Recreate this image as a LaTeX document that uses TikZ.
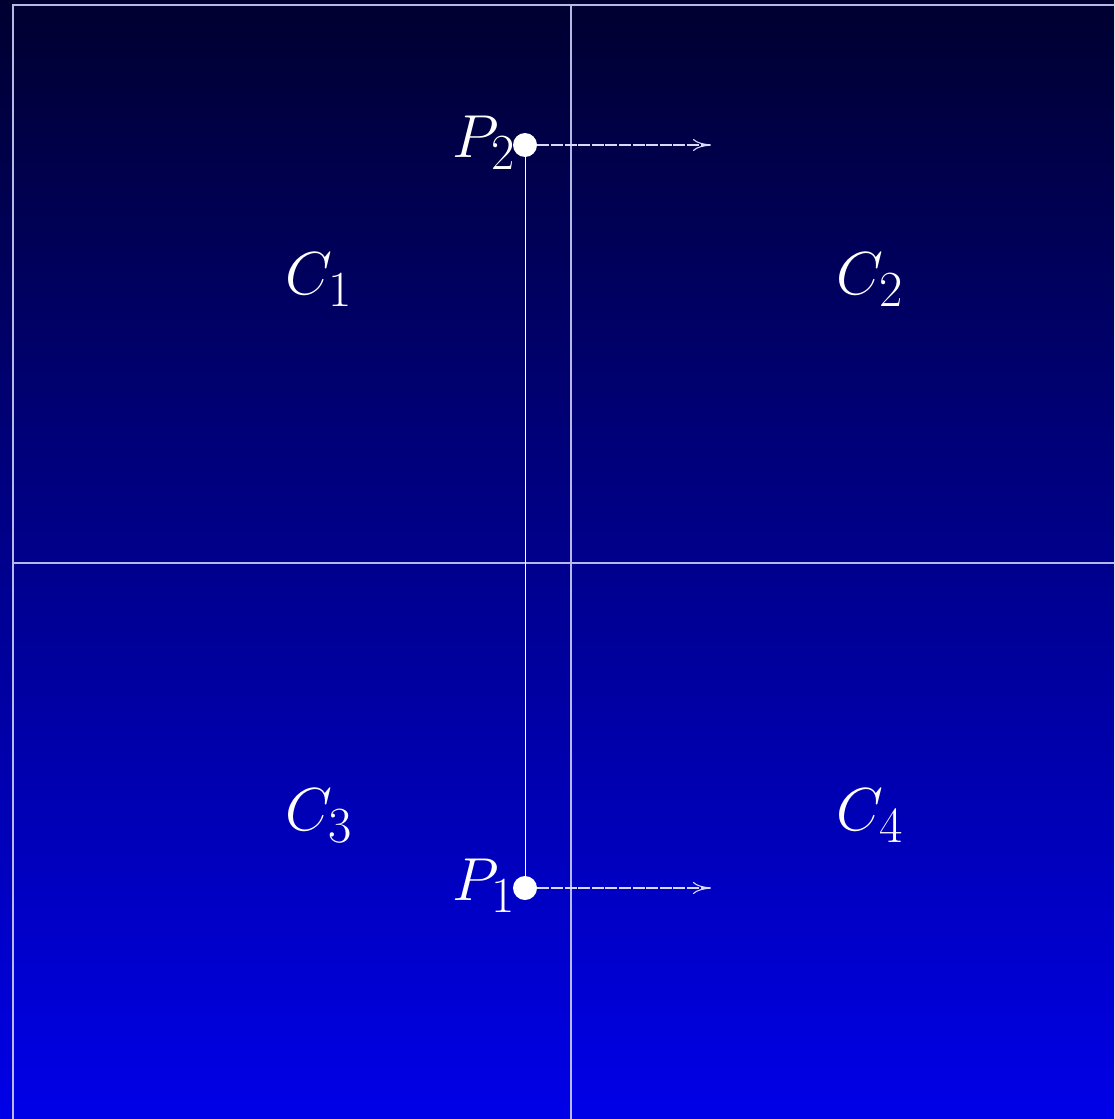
\documentclass[tikz,border=0pt]{standalone}
\usepackage{graphicx}
\usetikzlibrary{arrows.meta}
\newcommand{\biglbl}[1]{\scalebox{1.22}{\fontsize{24.88}{30}\selectfont$#1$}}
\begin{document}
\begin{tikzpicture}[x=0.5pt,y=-0.5pt,
  gridline/.style={draw=white!80!blue!90!black, line width=0.65pt},
  conn/.style={draw=white, line width=0.5pt},
  dotnode/.style={circle, fill=white, inner sep=0pt, minimum size=12pt},
  lbl/.style={text=white},
  velarrow/.style={draw=white!85!blue, line width=0.55pt, dash pattern=on 6pt off 0.8pt, -{To[length=9pt,width=6pt]}}
]
\useasboundingbox (0,0) rectangle (1114,1119);
\shade[top color={rgb,255:red,0;green,0;blue,48}, bottom color={rgb,255:red,0;green,0;blue,232}] (0,0) rectangle (1114,1119);
\clip (0,0) rectangle (1114,1119);
% grid
\draw[gridline] (13,5) rectangle (1129,1121);
\draw[gridline] (571,5) -- (571,1121);
\draw[gridline] (13,563) -- (1129,563);
% cell labels
\node[lbl] (c1) at (319,280) {\biglbl{C_1}};
\node[lbl] (c2) at (870,280) {\biglbl{C_2}};
\node[lbl] (c3) at (319,816) {\biglbl{C_3}};
\node[lbl] (c4) at (870,816) {\biglbl{C_4}};
% points
\node[dotnode] (p2) at (525,145) {};
\node[dotnode] (p1) at (525,888) {};
\draw[conn] (p2) -- (p1);
\node[lbl, anchor=east, inner sep=0pt] (l2) at (516,143) {\biglbl{P_2}};
\node[lbl, anchor=east, inner sep=0pt] (l1) at (516,886) {\biglbl{P_1}};
\coordinate (a2) at (711,145);
\coordinate (a1) at (711,888);
\draw[velarrow] (p2) -- (a2);
\draw[velarrow] (p1) -- (a1);
\end{tikzpicture}
\end{document}
